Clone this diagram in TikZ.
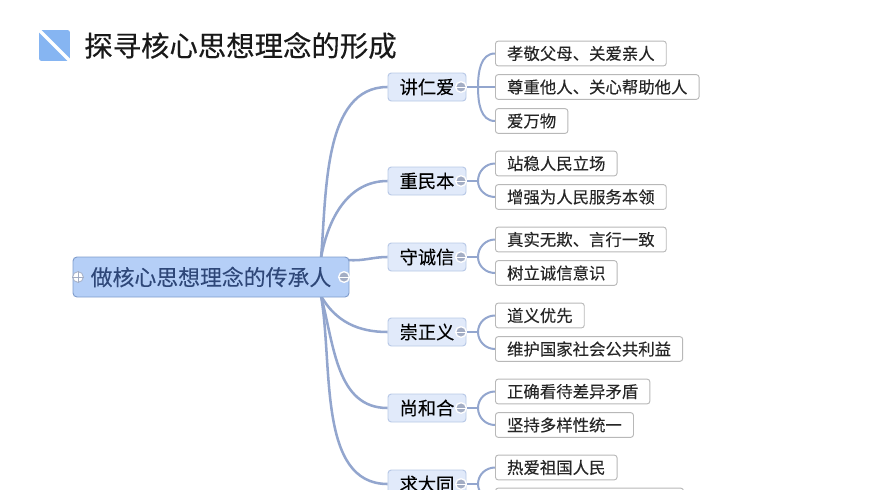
\documentclass[tikz,border=0pt]{standalone}
\usepackage{fontspec}
\setmainfont[FakeBold=0.12]{Noto Sans CJK SC}
\newfontfamily\titlefont[FakeBold=0.35]{Noto Sans CJK SC}
\usepackage{tikz}
\usetikzlibrary{backgrounds}

\definecolor{rootfill}{HTML}{B5CFF7}
\definecolor{rootline}{HTML}{7F9CCB}
\definecolor{roottext}{HTML}{2E4778}
\definecolor{topicfill}{HTML}{E1EAFA}
\definecolor{topicline}{HTML}{B7C8E6}
\definecolor{leafline}{HTML}{B8B8B8}
\definecolor{linkcolor}{HTML}{93A6CE}
\definecolor{foldcolor}{HTML}{A3ADC4}
\definecolor{iconfill}{HTML}{86B5F2}

\tikzset{
  rootbox/.style={draw=rootline,fill=rootfill,rounded corners=3pt,line width=0.7pt,
    minimum width=207pt,minimum height=30pt,inner sep=0pt,text=roottext,font=\fontsize{16.4pt}{18pt}\selectfont},
  topicbox/.style={draw=topicline,fill=topicfill,rounded corners=2.5pt,line width=0.7pt,
    minimum width=58.5pt,minimum height=21pt,inner sep=0pt,text=black,font=\fontsize{13.7pt}{15pt}\selectfont},
  leafbox/.style={draw=leafline,fill=white,rounded corners=2pt,line width=0.7pt,anchor=west,
    minimum height=18.5pt,inner xsep=8.7pt,inner ysep=0pt,text=black!85,font=\fontsize{12.3pt}{14pt}\selectfont},
  foldmark/.style={draw=white,fill=foldcolor,shape=circle,line width=1pt,
    minimum size=8pt,inner sep=0pt},
  trunk/.style={draw=linkcolor,line width=1.9pt},
  twig/.style={draw=linkcolor,line width=1.5pt}
}

\begin{document}
\begin{tikzpicture}[x=0.75pt,y=-0.75pt]

  \clip (0,0) rectangle (870,489);

  % Title with its icon
  \node[draw=none,fill=iconfill,rounded corners=1.5pt,minimum size=23pt,inner sep=0pt] (icon) at (54.5,45.5) {};
  \draw[white,line width=2.6pt] (icon.north west) -- (icon.south east);
  \node[anchor=west,inner sep=0pt,text=black!90,font=\titlefont\fontsize{21.3pt}{24pt}\selectfont] (title) at (84,45.5) {探寻核心思想理念的形成};

  % Specification of nodes (position, etc.)
  \node[rootbox] (root) at (211,277) {做核心思想理念的传承人};

  \node[topicbox] (t1) at (427,87) {讲仁爱};
  \node[topicbox] (t2) at (427,181) {重民本};
  \node[topicbox] (t3) at (427,257) {守诚信};
  \node[topicbox] (t4) at (427,332) {崇正义};
  \node[topicbox] (t5) at (427,408) {尚和合};
  \node[topicbox] (t6) at (427,484) {求大同};

  \node[leafbox] (l1) at (495,53.5) {孝敬父母、关爱亲人};
  \node[leafbox] (l2) at (495,87) {尊重他人、关心帮助他人};
  \node[leafbox] (l3) at (495,121) {爱万物};
  \node[leafbox] (l4) at (495,163.5) {站稳人民立场};
  \node[leafbox] (l5) at (495,197) {增强为人民服务本领};
  \node[leafbox] (l6) at (495,239.5) {真实无欺、言行一致};
  \node[leafbox] (l7) at (495,273) {树立诚信意识};
  \node[leafbox] (l8) at (495,315.5) {道义优先};
  \node[leafbox] (l9) at (495,349) {维护国家社会公共利益};
  \node[leafbox] (l10) at (495,391.5) {正确看待差异矛盾};
  \node[leafbox] (l11) at (495,425) {坚持多样性统一};
  \node[leafbox] (l12) at (495,467.5) {热爱祖国人民};
  \node[leafbox,minimum width=141pt] (l13) at (495,500.5) {};

  \coordinate (rt) at (321,258);
  \coordinate (rb) at (321,296);
  \coordinate (re) at (348,260);
  \coordinate (j1) at (478,87);
  \coordinate (j2) at (478,181);
  \coordinate (j3) at (478,257);
  \coordinate (j4) at (478,332);
  \coordinate (j5) at (478,408);
  \coordinate (j6) at (478,484);

  \node[foldmark,fill=white,draw=foldcolor,line width=0.6pt] (fold0) at (78,277) {};
  \node[foldmark] (foldr) at (344,277) {};
  \node[foldmark] (fold1) at (461,87) {};
  \node[foldmark] (fold2) at (461,181) {};
  \node[foldmark] (fold3) at (461,257) {};
  \node[foldmark] (fold4) at (461,332) {};
  \node[foldmark] (fold5) at (461,408) {};
  \node[foldmark] (fold6) at (461,484) {};

  \begin{scope}[on background layer]
    \draw[trunk] (rt) to[out=85,in=180,looseness=0.9] (t1.west);
    \draw[trunk] (rt) to[out=80,in=180] (t2.west);
    \draw[trunk] (re) to[out=-5,in=180] (t3.west);
    \draw[trunk] (rb) to[out=-60,in=180] (t4.west);
    \draw[trunk] (rb) to[out=-75,in=180] (t5.west);
    \draw[trunk] (rb) to[out=-80,in=180,looseness=0.9] (t6.west);

    \draw[twig] (fold1) -- (l2.west);
    \draw[twig] (j1) to[out=90,in=180] (l1.west);
    \draw[twig] (j1) to[out=-90,in=180] (l3.west);
    \draw[twig] (fold2) -- (j2);
    \draw[twig] (j2) to[out=90,in=180] (l4.west);
    \draw[twig] (j2) to[out=-90,in=180] (l5.west);
    \draw[twig] (fold3) -- (j3);
    \draw[twig] (j3) to[out=90,in=180] (l6.west);
    \draw[twig] (j3) to[out=-90,in=180] (l7.west);
    \draw[twig] (fold4) -- (j4);
    \draw[twig] (j4) to[out=90,in=180] (l8.west);
    \draw[twig] (j4) to[out=-90,in=180] (l9.west);
    \draw[twig] (fold5) -- (j5);
    \draw[twig] (j5) to[out=90,in=180] (l10.west);
    \draw[twig] (j5) to[out=-90,in=180] (l11.west);
    \draw[twig] (fold6) -- (j6);
    \draw[twig] (j6) to[out=90,in=180] (l12.west);
    \draw[twig] (j6) to[out=-90,in=180] (l13.west);
  \end{scope}

  % Signs in the fold marks
  \draw[foldcolor,line width=0.6pt] (fold0.west) -- (fold0.east);
  \draw[foldcolor,line width=0.6pt] (fold0.north) -- (fold0.south);
  \draw[white,line width=0.6pt] (foldr.west) -- (foldr.east);
  \draw[white,line width=0.6pt] (fold1.west) -- (fold1.east);
  \draw[white,line width=0.6pt] (fold2.west) -- (fold2.east);
  \draw[white,line width=0.6pt] (fold3.west) -- (fold3.east);
  \draw[white,line width=0.6pt] (fold4.west) -- (fold4.east);
  \draw[white,line width=0.6pt] (fold5.west) -- (fold5.east);
  \draw[white,line width=0.6pt] (fold6.west) -- (fold6.east);

\end{tikzpicture}
\end{document}
